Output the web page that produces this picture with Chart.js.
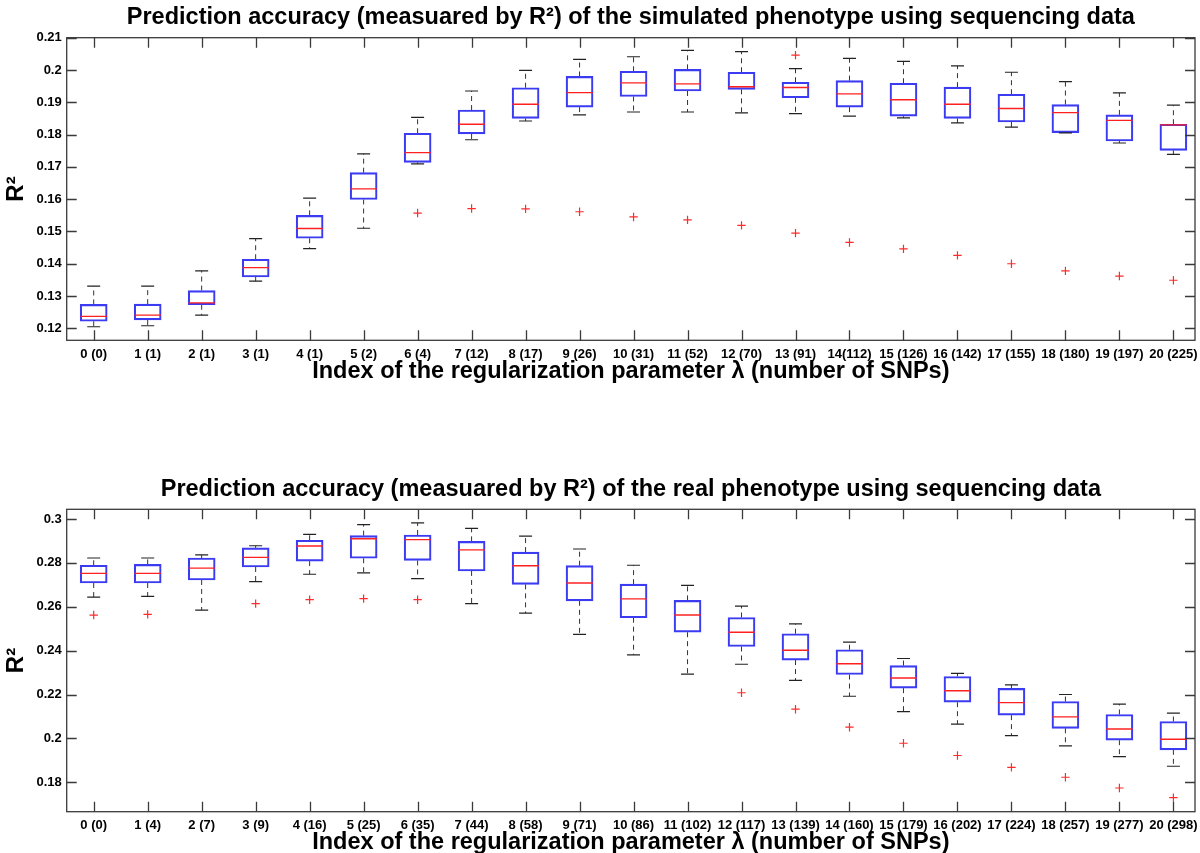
<!DOCTYPE html>
<html lang="en">
<head>
  <meta charset="UTF-8">
  <title>Prediction accuracy box plots</title>
  <script src="https://cdn.jsdelivr.net/npm/chart.js"></script>
  <style>
    body { margin: 0; background: #fff; overflow: hidden; }
    .panel { position: absolute; left: 0; width: 1200px; }
    #top-panel { top: 0; height: 400px; }
    #bottom-panel { top: 420px; height: 437px; }
  </style>
</head>
<body>
  <div class="panel" id="top-panel"><canvas id="simChart"></canvas></div>
  <div class="panel" id="bottom-panel"><canvas id="realChart"></canvas></div>

  <script>
    // x tick labels: index of lambda (number of SNPs)
    const simLabels = ['0 (0)', '1 (1)', '2 (1)', '3 (1)', '4 (1)', '5 (2)', '6 (4)', '7 (12)', '8 (17)', '9 (26)', '10 (31)',
      '11 (52)', '12 (70)', '13 (91)', '14(112)', '15 (126)', '16 (142)', '17 (155)', '18 (180)', '19 (197)', '20 (225)'];
    const realLabels = ['0 (0)', '1 (4)', '2 (7)', '3 (9)', '4 (16)', '5 (25)', '6 (35)', '7 (44)', '8 (58)', '9 (71)', '10 (86)',
      '11 (102)', '12 (117)', '13 (139)', '14 (160)', '15 (179)', '16 (202)', '17 (224)', '18 (257)', '19 (277)', '20 (298)'];

    // simulated phenotype: whisker ends, quartiles, medians, outliers
    const simLow  = [0.1205, 0.1208, 0.1241, 0.1346, 0.1447, 0.1510, 0.1709, 0.1784, 0.1842, 0.1861, 0.1870, 0.1870, 0.1867, 0.1865, 0.1857, 0.1852, 0.1836, 0.1823, 0.1805, 0.1774, 0.1739];
    const simQ1   = [0.1222, 0.1226, 0.1273, 0.1359, 0.1479, 0.1599, 0.1714, 0.1802, 0.1850, 0.1885, 0.1918, 0.1935, 0.1940, 0.1914, 0.1885, 0.1857, 0.1850, 0.1839, 0.1806, 0.1780, 0.1751];
    const simMed  = [0.1237, 0.1241, 0.1279, 0.1388, 0.1509, 0.1632, 0.1744, 0.1832, 0.1894, 0.1930, 0.1960, 0.1957, 0.1948, 0.1946, 0.1926, 0.1908, 0.1894, 0.1881, 0.1868, 0.1844, 0.1830];
    const simQ3   = [0.1274, 0.1275, 0.1317, 0.1414, 0.1550, 0.1682, 0.1804, 0.1876, 0.1945, 0.1980, 0.1996, 0.2002, 0.1993, 0.1962, 0.1967, 0.1959, 0.1947, 0.1925, 0.1893, 0.1861, 0.1832];
    const simHigh = [0.1331, 0.1331, 0.1378, 0.1478, 0.1603, 0.1740, 0.1853, 0.1935, 0.1999, 0.2033, 0.2041, 0.2061, 0.2057, 0.2004, 0.2036, 0.2027, 0.2013, 0.1993, 0.1964, 0.1929, 0.1891];
    const simOutX = [6, 7, 8, 9, 10, 11, 12, 13, 13, 14, 15, 16, 17, 18, 19, 20];
    const simOutY = [0.1557, 0.1571, 0.1570, 0.1561, 0.1545, 0.1536, 0.1519, 0.2046, 0.1495, 0.1466, 0.1446, 0.1426, 0.1400, 0.1378, 0.1362, 0.1349];
    const simTicks = [0.12, 0.13, 0.14, 0.15, 0.16, 0.17, 0.18, 0.19, 0.2, 0.21];
    const simTickLabels = ['0.12', '0.13', '0.14', '0.15', '0.16', '0.17', '0.18', '0.19', '0.2', '0.21'];

    // real phenotype
    const realLow  = [0.2644, 0.2647, 0.2585, 0.2714, 0.2748, 0.2754, 0.2728, 0.2614, 0.2571, 0.2474, 0.2381, 0.2293, 0.2338, 0.2264, 0.2192, 0.2122, 0.2065, 0.2013, 0.1966, 0.1917, 0.1873];
    const realQ1   = [0.2708, 0.2708, 0.2722, 0.2781, 0.2808, 0.2821, 0.2811, 0.2763, 0.2702, 0.2627, 0.2550, 0.2484, 0.2419, 0.2357, 0.2291, 0.2229, 0.2165, 0.2106, 0.2046, 0.1992, 0.1948];
    const realMed  = [0.2752, 0.2752, 0.2776, 0.2825, 0.2877, 0.2910, 0.2906, 0.2859, 0.2787, 0.2708, 0.2636, 0.2562, 0.2484, 0.2402, 0.2340, 0.2275, 0.2217, 0.2163, 0.2098, 0.2043, 0.1996];
    const realQ3   = [0.2789, 0.2793, 0.2822, 0.2868, 0.2903, 0.2924, 0.2927, 0.2898, 0.2849, 0.2787, 0.2703, 0.2629, 0.2551, 0.2477, 0.2404, 0.2332, 0.2282, 0.2228, 0.2168, 0.2109, 0.2077];
    const realHigh = [0.2822, 0.2822, 0.2836, 0.2878, 0.2930, 0.2974, 0.2982, 0.2957, 0.2922, 0.2863, 0.2789, 0.2697, 0.2603, 0.2522, 0.2439, 0.2364, 0.2296, 0.2244, 0.2200, 0.2156, 0.2115];
    const realOutX = [0, 1, 3, 4, 5, 6, 12, 13, 14, 15, 16, 17, 18, 19, 20];
    const realOutY = [0.2562, 0.2565, 0.2614, 0.2632, 0.2637, 0.2632, 0.2208, 0.2133, 0.2051, 0.1978, 0.1922, 0.1868, 0.1823, 0.1774, 0.1730];
    const realTicks = [0.18, 0.2, 0.22, 0.24, 0.26, 0.28, 0.3];
    const realTickLabels = ['0.18', '0.2', '0.22', '0.24', '0.26', '0.28', '0.3'];

    const FONT = '"Liberation Sans", Arial, Helvetica, sans-serif';
    const xTitle = 'Index of the regularization parameter \u03bb (number of SNPs)';

    // MATLAB style frame: full box with inward ticks on every side
    const matlabAxes = {
      id: 'matlabAxes',
      afterDatasetsDraw(chart) {
        const { ctx, chartArea: a, scales: { x, y } } = chart;
        ctx.save();
        ctx.strokeStyle = '#3a3a3a';
        ctx.lineWidth = 1.3;
        ctx.beginPath();
        x.ticks.forEach(t => {
          const px = Math.round(x.getPixelForValue(t.value)) + 0.5;
          ctx.moveTo(px, a.bottom); ctx.lineTo(px, a.bottom - 10);
          ctx.moveTo(px, a.top); ctx.lineTo(px, a.top + 10);
        });
        y.ticks.forEach(t => {
          const py = Math.round(y.getPixelForValue(t.value)) + 0.5;
          ctx.moveTo(a.left, py); ctx.lineTo(a.left + 10, py);
          ctx.moveTo(a.right, py); ctx.lineTo(a.right - 10, py);
        });
        ctx.stroke();
        ctx.strokeRect(a.left, a.top, a.right - a.left, a.bottom - a.top);
        ctx.restore();
      }
    };

    function makeBoxChart(id, s) {
      const idx = s.labels.map((_, i) => i);
      const whiskers = [];
      idx.forEach(i => {
        whiskers.push({ x: i, y: s.q3[i] }, { x: i, y: s.high[i] }, { x: i, y: null });
        whiskers.push({ x: i, y: s.q1[i] }, { x: i, y: s.low[i] }, { x: i, y: null });
      });
      const caps = idx.map(i => ({ x: i, y: s.high[i] })).concat(idx.map(i => ({ x: i, y: s.low[i] })));

      return new Chart(document.getElementById(id), {
        type: 'bar',
        data: {
          datasets: [
            {
              type: 'scatter',
              data: s.outX.map((xv, k) => ({ x: xv, y: s.outY[k] })),
              pointStyle: 'cross', pointRadius: 4.2, borderColor: '#ff2a2a', borderWidth: 1.2,
              backgroundColor: '#ff2a2a'
            },
            {
              type: 'scatter',
              data: idx.map(i => ({ x: i, y: s.med[i] })),
              pointStyle: 'line', pointRadius: 13.2, borderColor: '#ff2020', borderWidth: 1.4
            },
            {
              type: 'scatter',
              data: caps,
              pointStyle: 'line', pointRadius: 6.5, borderColor: '#222', borderWidth: 1.2
            },
            {
              type: 'bar',
              data: idx.map(i => ({ x: i, y: [s.q1[i], s.q3[i]] })),
              barThickness: 27,
              backgroundColor: 'rgba(255,255,255,0)',
              borderColor: '#3b3bf2',
              borderWidth: 1.5,
              borderSkipped: false
            },
            {
              type: 'line',
              data: whiskers,
              borderColor: '#333',
              borderWidth: 1,
              borderDash: [5, 4],
              pointRadius: 0,
              spanGaps: false
            }
          ]
        },
        options: {
          responsive: true,
          maintainAspectRatio: false,
          animation: false,
          events: [],
          layout: { autoPadding: false, padding: { left: 0, right: 5, top: 0, bottom: 0 } },
          plugins: {
            legend: { display: false },
            tooltip: { enabled: false },
            title: {
              display: true,
              fullSize: false,
              text: s.title,
              color: '#000',
              font: { family: FONT, size: 23.5, weight: 'bold' },
              padding: s.titlePad
            }
          },
          scales: {
            x: {
              type: 'linear',
              offset: false,
              min: -0.5,
              max: 20.4,
              afterBuildTicks: sc => { sc.ticks = idx.map(i => ({ value: i })); },
              afterFit: sc => { sc.height = s.xHeight; sc.paddingLeft = 0; sc.paddingRight = 0; },
              grid: { display: false, drawTicks: false, offset: false },
              border: { display: false },
              ticks: {
                autoSkip: false, maxRotation: 0, padding: s.xTickPad, color: '#000',
                font: { family: FONT, size: 13, weight: 'bold' },
                callback: v => s.labels[v]
              },
              title: {
                display: true, text: xTitle, color: '#000',
                font: { family: FONT, size: 23.5, weight: 'bold' },
                padding: { top: 0, bottom: s.xTitlePad }
              }
            },
            y: {
              min: s.yMin,
              max: s.yMax,
              afterBuildTicks: sc => { sc.ticks = s.ticks.map(v => ({ value: v })); },
              afterFit: sc => { sc.width = 66.7; sc.paddingTop = 0; sc.paddingBottom = 0; },
              grid: { display: false, drawTicks: false },
              border: { display: false },
              ticks: {
                padding: 5, color: '#000',
                font: { family: FONT, size: 13, weight: 'bold' },
                callback: (v, i) => s.tickLabels[i]
              },
              title: {
                display: true, text: 'R\u00b2', color: '#000',
                font: { family: FONT, size: 24, weight: 'bold' },
                padding: { top: 2, bottom: 0 }
              }
            }
          }
        },
        plugins: [matlabAxes]
      });
    }

    makeBoxChart('simChart', {
      title: 'Prediction accuracy (measuared by R\u00b2) of the simulated phenotype using sequencing data',
      titlePad: { top: 3.1, bottom: 6.4 },
      labels: simLabels,
      low: simLow, q1: simQ1, med: simMed, q3: simQ3, high: simHigh,
      outX: simOutX, outY: simOutY,
      ticks: simTicks, tickLabels: simTickLabels,
      yMin: 0.1163, yMax: 0.21,
      xHeight: 59.7, xTickPad: 6, xTitlePad: 14
    });

    makeBoxChart('realChart', {
      title: 'Prediction accuracy (measuared by R\u00b2) of the real phenotype using sequencing data',
      titlePad: { top: 55.9, bottom: 5.2 },
      labels: realLabels,
      low: realLow, q1: realQ1, med: realMed, q3: realQ3, high: realHigh,
      outX: realOutX, outY: realOutY,
      ticks: realTicks, tickLabels: realTickLabels,
      yMin: 0.1666, yMax: 0.3044,
      xHeight: 45.3, xTickPad: 5.5, xTitlePad: 0.7
    });
  </script>
</body>
</html>
